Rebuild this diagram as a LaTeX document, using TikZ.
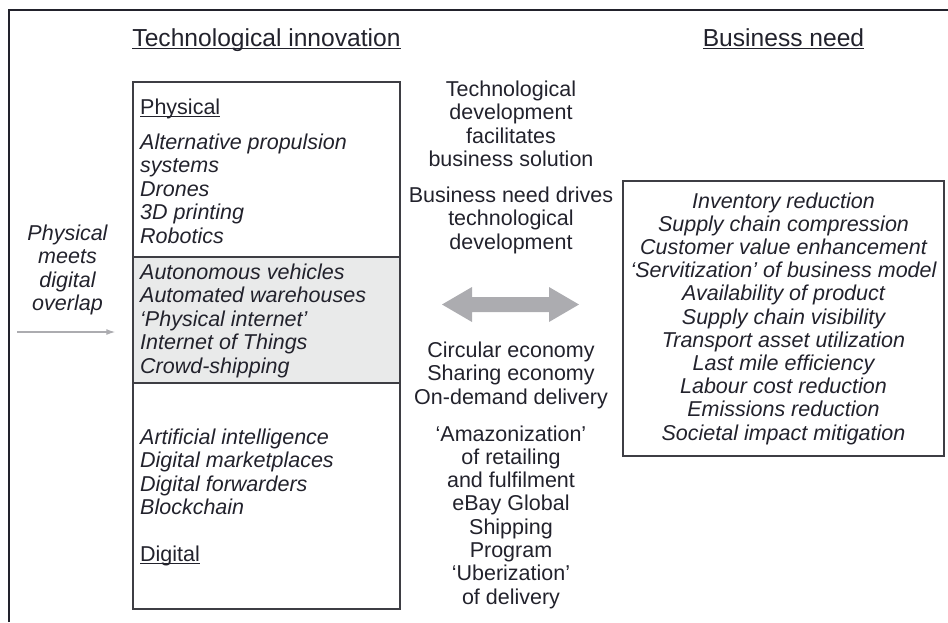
\documentclass[tikz,border=0pt]{standalone}
\usepackage{fontspec}
\setmainfont{Liberation Sans}
\usetikzlibrary{arrows.meta,positioning}

\definecolor{ink}{RGB}{34,34,44}
\definecolor{rule}{RGB}{62,62,68}
\definecolor{band}{RGB}{233,234,234}
\definecolor{pale}{RGB}{172,172,176}

% underline set close to the baseline
\newcommand\undl[1]{\leavevmode\setbox0\hbox{#1}\rlap{\rule[-3pt]{\wd0}{1.3pt}}\box0}

\tikzset{
  item/.style={inner sep=0pt, text=ink, font=\fontsize{21.5}{23.5}\selectfont\itshape},
  plain/.style={inner sep=0pt, text=ink, font=\fontsize{21.5}{23.5}\selectfont},
  head/.style={inner sep=0pt, text=ink, font=\fontsize{24.6}{28}\selectfont},
  panel/.style={draw=rule, line width=1.4pt, inner sep=0pt},
}

\begin{document}
\begin{tikzpicture}[x=1pt,y=-1pt]
  \useasboundingbox (0,0) rectangle (948,622);
  % outer frame
  \draw[line width=1.2pt, ink] (9,622) -- (9,10) -- (948,10);

  \node[head, anchor=base] (techhead) at (266.5,46) {\undl{Technological innovation}};
  \node[head, anchor=base] (needhead) at (783.5,46) {\undl{Business need}};

  % left column, grey band is the overlap
  \node[panel, minimum width=267pt, minimum height=527pt] (tech) at (266.5,345.5) {};
  \node[panel, fill=band, minimum width=267pt, minimum height=126pt] (overlap) at (266.5,320) {};

  \node[plain, anchor=base west] (phys) at (140,114) {\undl{Physical}};
  \foreach \t [count=\i from 0] in {Alternative propulsion, systems, Drones, 3D printing, Robotics}
    \node[item, anchor=base west] (phys\i) at (140,149+23.5*\i) {\t};
  \foreach \t [count=\i from 0] in {Autonomous vehicles, Automated warehouses, ‘Physical internet’, Internet of Things, Crowd-shipping}
    \node[item, anchor=base west] (both\i) at (140,279+23.5*\i) {\t};
  \foreach \t [count=\i from 0] in {Artificial intelligence, Digital marketplaces, Digital forwarders, Blockchain}
    \node[item, anchor=base west] (dig\i) at (140,444+23.5*\i) {\t};
  \node[plain, anchor=base west] (dig) at (140,561) {\undl{Digital}};

  % side note and its arrow
  \foreach \t [count=\i from 0] in {Physical, meets, digital, overlap}
    \node[item, anchor=base] (note\i) at (67.5,240+23.5*\i) {\t};
  \coordinate (in) at (17,332);
  \draw[pale, line width=1.3pt, -{Latex[length=9pt,width=6pt]}, shorten >=17pt] (in) -- (tech.west |- in);

  % middle column
  \foreach \t [count=\i from 0] in {Technological, development, facilitates, business solution}
    \node[plain, anchor=base] (fac\i) at (511,96+23.5*\i) {\t};
  \foreach \t [count=\i from 0] in {Business need drives, technological, development}
    \node[plain, anchor=base] (drv\i) at (511,202+23.5*\i) {\t};
  \foreach \t [count=\i from 0] in {Circular economy, Sharing economy, On-demand delivery}
    \node[plain, anchor=base] (eco\i) at (511,357+23.5*\i) {\t};
  \foreach \t [count=\i from 0] in {‘Amazonization’, of retailing, and fulfilment, eBay Global, Shipping, Program, ‘Uberization’, of delivery}
    \node[plain, anchor=base] (ex\i) at (511,441+23.3*\i) {\t};

  % two-way arrow
  \coordinate (twoway) at (510.5,304.5);
  \fill[pale, shift={(twoway)}] (-68.5,0) -- (-38.5,-17.5) -- (-38.5,-7.5) -- (38.5,-7.5)
    -- (38.5,-17.5) -- (68.5,0) -- (38.5,17.5) -- (38.5,7.5) -- (-38.5,7.5) -- (-38.5,17.5) -- cycle;

  % right column
  \node[panel, minimum width=321pt, minimum height=275pt] (need) at (783.5,318.5) {};
  \foreach \t [count=\i from 0] in {Inventory reduction, Supply chain compression, Customer value enhancement,
      ‘Servitization’ of business model, Availability of product, Supply chain visibility,
      Transport asset utilization, Last mile efficiency, Labour cost reduction,
      Emissions reduction, Societal impact mitigation}
    \node[item, anchor=base] (need\i) at (783.5,208+23.2*\i) {\t};
\end{tikzpicture}
\end{document}
